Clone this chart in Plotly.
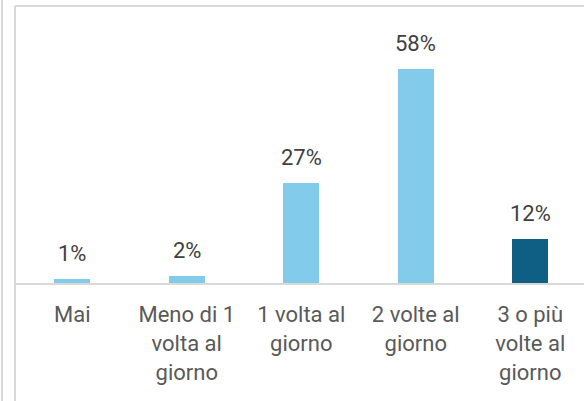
import plotly.graph_objects as go

# Frequenza giornaliera: categorie, percentuali e colori
categories = ["Mai", "Meno di 1 volta al giorno", "1 volta al giorno",
              "2 volte al giorno", "3 o più volte al giorno"]
tick_labels = ["Mai", "Meno di 1<br>volta al<br>giorno", "1 volta al<br>giorno",
               "2 volte al<br>giorno", "3 o più<br>volte al<br>giorno"]
values = [1, 2, 27, 58, 12]
bar_colors = ["#83CBEB", "#83CBEB", "#83CBEB", "#83CBEB", "#0F5E84"]

W, H = 584, 401
ML, MT, MB = 15, 6, 118
plot_w = W - ML
cat_px = 114.5
x_max = -0.5 + plot_w / cat_px

FONT = "Roboto"

fig = go.Figure()
fig.add_trace(go.Bar(
    x=list(range(len(categories))),
    y=values,
    width=0.315,
    marker=dict(color=bar_colors, line=dict(width=0)),
    hovertext=categories,
    showlegend=False,
))

# Etichette con i valori sopra le barre
for i, v in enumerate(values):
    fig.add_annotation(
        x=i, y=v, text=f"{v}%", showarrow=False,
        yanchor="bottom", yshift=11,
        font=dict(family=FONT, size=22, color="#404040"),
    )

line_col = "#D9D9D9"
to_px_x = lambda px: (px - ML) / plot_w
plot_h = H - MT - MB
to_px_y = lambda py: (H - MB - py) / plot_h

# Cornice dell'area grafico
fig.add_shape(type="line", xref="paper", yref="paper",
              x0=to_px_x(15), x1=1.01, y0=to_px_y(6), y1=to_px_y(6),
              line=dict(color=line_col, width=2))
fig.add_shape(type="line", xref="paper", yref="paper",
              x0=to_px_x(15), x1=to_px_x(15), y0=to_px_y(6), y1=to_px_y(402),
              line=dict(color=line_col, width=2))
fig.add_shape(type="line", xref="paper", yref="paper",
              x0=to_px_x(2), x1=to_px_x(2), y0=to_px_y(-1), y1=to_px_y(402),
              line=dict(color=line_col, width=2))

fig.update_layout(
    width=W, height=H,
    margin=dict(l=ML, r=0, t=MT, b=MB, pad=0),
    paper_bgcolor="white", plot_bgcolor="white",
    bargap=0,
    xaxis=dict(
        range=[-0.5, x_max],
        tickmode="array",
        tickvals=list(range(len(categories))),
        ticktext=tick_labels,
        showline=True, linecolor=line_col, linewidth=2,
        ticks="outside", ticklen=11, tickcolor="rgba(0,0,0,0)",
        showgrid=False, zeroline=False,
        tickfont=dict(family=FONT, size=22, color="#595959"),
        fixedrange=True,
    ),
    yaxis=dict(
        range=[0, 75],
        visible=False,
        fixedrange=True,
    ),
)

fig.write_html("out.html")
